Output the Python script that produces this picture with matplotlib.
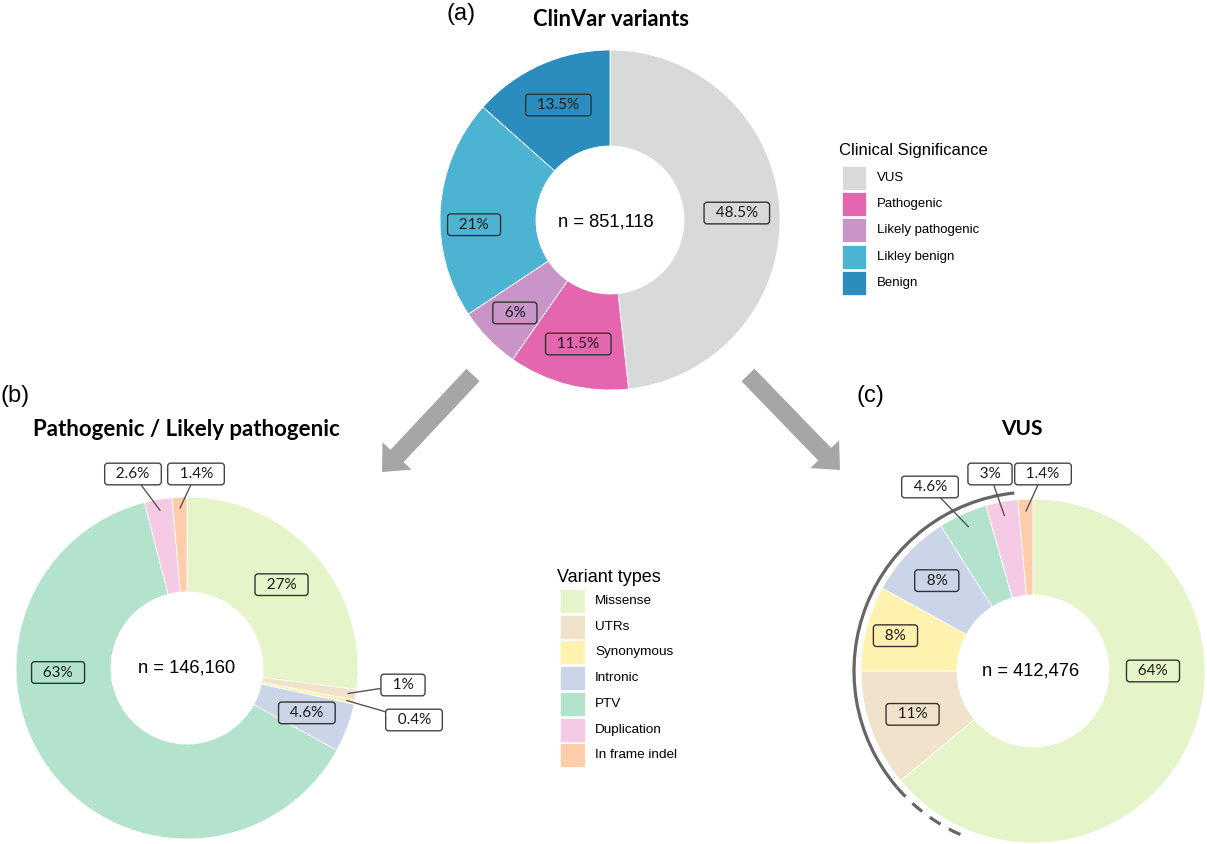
import matplotlib
matplotlib.use("Agg")
import matplotlib.pyplot as plt
import matplotlib.patches as mpatches
import numpy as np

# ---------------- data ----------------
clin_categories = ["VUS", "Pathogenic", "Likely pathogenic", "Likley benign", "Benign"]
clin_values = [48.5, 11.5, 6, 21, 13.5]
clin_labels = ["48.5%", "11.5%", "6%", "21%", "13.5%"]
clin_colors = ["#d9d9d9", "#e366ae", "#c994c7", "#4db3d3", "#2b8cbe"]
clin_total = "n = 851,118"

var_categories = ["Missense", "UTRs", "Synonymous", "Intronic", "PTV", "Duplication", "In frame indel"]
var_colors = ["#e6f5c9", "#f1e2cc", "#fff2ae", "#cbd5e8", "#b3e2cd", "#f4cae4", "#fdcdac"]

plp_values = [27, 1, 0.4, 4.6, 63, 2.6, 1.4]
plp_labels = ["27%", "1%", "0.4%", "4.6%", "63%", "2.6%", "1.4%"]
plp_total = "n = 146,160"

vus_values = [64, 11, 8, 8, 4.6, 3, 1.4]
vus_labels = ["64%", "11%", "8%", "8%", "4.6%", "3%", "1.4%"]
vus_total = "n = 412,476"

# ---------------- layout ----------------
W, H = 1207, 844
fig = plt.figure(figsize=(W / 100, H / 100), dpi=100)
ax = fig.add_axes([0, 0, 1, 1])


def Y(y):
    return H - y


LABEL_FONT = ["Lato", "DejaVu Sans"]
SANS = ["Liberation Sans", "DejaVu Sans"]
LBL_SIZE = 11


def donut(values, colors, cx, cy, r_out, r_in):
    wedges, _ = ax.pie(values, colors=colors, startangle=90, counterclock=False,
                       radius=r_out, center=(cx, Y(cy)), normalize=True,
                       wedgeprops=dict(width=r_out - r_in, edgecolor="white", linewidth=0.6))
    return wedges


def mid_point(w, r, ang=None):
    a = (w.theta1 + w.theta2) / 2 if ang is None else ang
    cx, cy = w.center
    return cx + r * np.cos(np.radians(a)), cy + r * np.sin(np.radians(a))


def inner_label(w, text, color, r, ang=None):
    x, y = mid_point(w, r, ang)
    ax.text(x, y, "  " + text + "  ", ha="center", va="center", fontsize=LBL_SIZE,
            family=LABEL_FONT, color="#1a1a1a",
            bbox=dict(boxstyle="round,pad=0.25,rounding_size=0.2", fc=color, ec="#333333", lw=1))


def outer_label(w, text, r, box_xy):
    x, y = mid_point(w, r)
    ax.annotate("  " + text + "  ", xy=(x, y), xytext=(box_xy[0], Y(box_xy[1])),
                ha="center", va="center", fontsize=LBL_SIZE, family=LABEL_FONT, color="#1a1a1a",
                bbox=dict(boxstyle="round,pad=0.25,rounding_size=0.2", fc="white", ec="#444444", lw=1),
                arrowprops=dict(arrowstyle="-", color="#555555", lw=1, shrinkA=0, shrinkB=0))


# ---- (a) ClinVar ----
acx, acy = 610, 220
wa = donut(clin_values, clin_colors, acx, acy, 170, 74)
a_ang = [None, None, None, 182, None]
a_r = [127, 128, 133, 136, 126]
for w, t, c, ang, r in zip(wa, clin_labels, clin_colors, a_ang, a_r):
    inner_label(w, t, c, r, ang)
ax.text(acx - 4, Y(acy + 2), clin_total, ha="center", va="center", fontsize=13.2, family=SANS)
ax.text(611, Y(19), "ClinVar variants", ha="center", va="center", fontsize=15.8,
        fontweight="bold", family=LABEL_FONT)
ax.text(461, Y(14), "(a)", ha="center", va="center", fontsize=17, family=SANS)

# legend (a)
ax.text(839, Y(151), "Clinical Significance", ha="left", va="center", fontsize=12, family=SANS)
for i, (lab, col) in enumerate(zip(clin_categories, clin_colors)):
    yc = 178 + i * 26.2
    ax.add_patch(mpatches.Rectangle((842, Y(yc) - 12), 24, 24, fc=col, ec="white", lw=0.5))
    ax.text(877, Y(yc), lab, ha="left", va="center", fontsize=9.5, family=SANS)

# ---- (b) Pathogenic / Likely pathogenic ----
bcx, bcy = 187, 668
wb = donut(plp_values, var_colors, bcx, bcy, 171, 76)
inner_label(wb[0], plp_labels[0], var_colors[0], 126)
inner_label(wb[3], plp_labels[3], var_colors[3], 128)
inner_label(wb[4], plp_labels[4], var_colors[4], 129, 182)
outer_label(wb[1], plp_labels[1], 163, (403, 685))
outer_label(wb[2], plp_labels[2], 163, (414, 720))
outer_label(wb[5], plp_labels[5], 160, (133, 474))
outer_label(wb[6], plp_labels[6], 160, (196, 474))
ax.text(bcx, Y(bcy), plp_total, ha="center", va="center", fontsize=13.2, family=SANS)
ax.text(186, Y(429), "Pathogenic / Likely pathogenic", ha="center", va="center", fontsize=16,
        fontweight="bold", family=LABEL_FONT)
ax.text(0, Y(396), "(b)", ha="left", va="center", fontsize=17, family=SANS)

# legend (b/c)
ax.text(557, Y(578), "Variant types", ha="left", va="center", fontsize=13, family=SANS)
for i, (lab, col) in enumerate(zip(var_categories, var_colors)):
    yc = 601 + i * 25.7
    ax.add_patch(mpatches.Rectangle((560, Y(yc) - 12), 25, 24, fc=col, ec="white", lw=0.5))
    ax.text(595, Y(yc), lab, ha="left", va="center", fontsize=9.7, family=SANS)

# ---- (c) VUS ----
ccx, ccy = 1033, 671
wc = donut(vus_values, var_colors, ccx, ccy, 172, 76)
inner_label(wc[0], vus_labels[0], var_colors[0], 120, 0)
inner_label(wc[1], vus_labels[1], var_colors[1], 128)
inner_label(wc[2], vus_labels[2], var_colors[2], 142)
inner_label(wc[3], vus_labels[3], var_colors[3], 132)
outer_label(wc[4], vus_labels[4], 158, (930, 487))
outer_label(wc[5], vus_labels[5], 158, (990, 474))
outer_label(wc[6], vus_labels[6], 160, (1043, 474))
ax.text(ccx - 2, Y(ccy), vus_total, ha="center", va="center", fontsize=13.2, family=SANS)
ax.text(1022, Y(429), "VUS", ha="center", va="center", fontsize=15,
        fontweight="bold", family=LABEL_FONT)
ax.text(857, Y(396), "(c)", ha="left", va="center", fontsize=17, family=SANS)

# arc around non-missense part of VUS donut
R_arc = 179
ax.add_patch(mpatches.Arc((ccx, Y(ccy)), 2 * R_arc, 2 * R_arc, theta1=96, theta2=220.5,
                          color="#666666", lw=2.3))
ax.add_patch(mpatches.Arc((ccx, Y(ccy)), 2 * R_arc, 2 * R_arc, theta1=220.5, theta2=249,
                          color="#666666", lw=2.3, linestyle=(0, (4, 3))))

# arrows
for (x0, y0, x1, y1) in [(473, 375, 382, 472), (748, 375, 840, 470)]:
    ax.add_patch(mpatches.FancyArrow(x0, Y(y0), x1 - x0, Y(y1) - Y(y0), width=18,
                                     head_width=40, head_length=22,
                                     length_includes_head=True, fc="#a6a6a6", ec="none"))

ax.set_xlim(0, W)
ax.set_ylim(0, H)
ax.set_aspect("equal")
ax.axis("off")
fig.savefig("out.png", dpi=100)
